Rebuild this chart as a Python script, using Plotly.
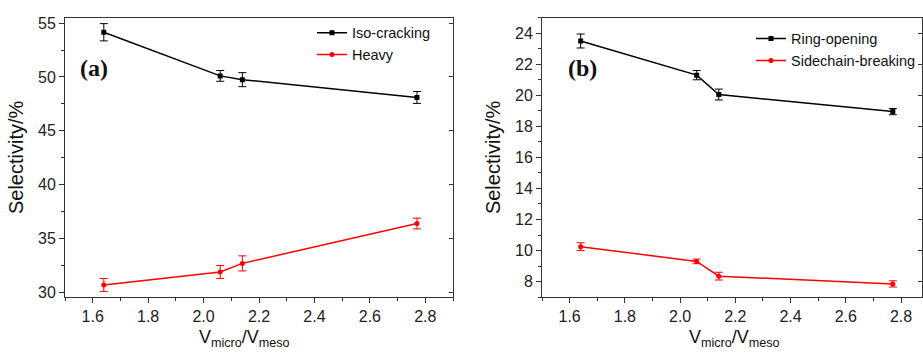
import plotly.graph_objects as go

x_vals = [1.64, 2.06, 2.14, 2.77]

iso_cracking = [54.15, 50.1, 49.75, 48.1]
iso_err = [0.8, 0.5, 0.65, 0.55]
heavy = [30.7, 31.9, 32.7, 36.4]
heavy_err = [0.6, 0.6, 0.7, 0.5]

ring_opening = [23.5, 21.3, 20.05, 18.95]
ring_err = [0.45, 0.3, 0.35, 0.2]
sidechain = [10.25, 9.3, 8.35, 7.85]
side_err = [0.25, 0.15, 0.25, 0.2]

W, H = 923, 356
FONT = "Liberation Sans, Arial, sans-serif"

def px(x):
    return x / W

def py(y):
    return (H - y) / H

fig = go.Figure()

def add(xa, ya, y, err, name, color, symbol, legend):
    fig.add_trace(go.Scatter(
        x=x_vals, y=y, name=name, mode="lines+markers",
        xaxis=xa, yaxis=ya, legend=legend,
        line=dict(color=color, width=1.5),
        marker=dict(color=color, symbol=symbol, size=5),
        error_y=dict(type="data", array=err, visible=True, color=color,
                     thickness=1, width=4),
    ))

add("x", "y", iso_cracking, iso_err, "Iso-cracking", "black", "square", "legend")
add("x", "y", heavy, heavy_err, "Heavy", "red", "circle", "legend")
add("x2", "y2", ring_opening, ring_err, "Ring-opening", "black", "square", "legend2")
add("x2", "y2", sidechain, side_err, "Sidechain-breaking", "red", "circle", "legend2")

dom_y = [py(300), py(15)]
dom_x1 = [px(65), px(453)]
dom_x2 = [px(542), 0.9993]

tickfont = dict(family=FONT, size=16, color="#222")
titlefont = dict(family=FONT, size=20, color="#111")

def xaxis_cfg(dom, rng, anchor):
    return dict(domain=dom, range=rng, anchor=anchor, dtick=0.2, tick0=1.6,
                ticks="outside", ticklen=5, tickwidth=1, tickcolor="#333",
                showline=True, linecolor="#333", linewidth=1, showgrid=False,
                zeroline=False, tickfont=tickfont, tickformat=".1f",
                minor=dict(dtick=0.1, tick0=1.5, ticks="outside", ticklen=3,
                           tickcolor="#333", showgrid=False))

def yaxis_cfg(rng, dtick, minor, anchor):
    return dict(domain=dom_y, range=rng, anchor=anchor, dtick=dtick,
                ticks="outside", ticklen=5, tickwidth=1, tickcolor="#333",
                showline=True, linecolor="#333", linewidth=1, showgrid=False,
                zeroline=False, tickfont=tickfont,
                minor=dict(dtick=minor, ticks="outside", ticklen=3,
                           tickcolor="#333", showgrid=False),
                title=dict(text="Selectivity/%", font=titlefont, standoff=8))

legfont = dict(family=FONT, size=14.5, color="#111")
xtitle = "V<sub>micro</sub>/V<sub>meso</sub>"

fig.update_layout(
    width=W, height=H, margin=dict(l=0, r=0, t=0, b=0),
    paper_bgcolor="white", plot_bgcolor="white",
    font=dict(family=FONT),
    showlegend=True,
    xaxis=xaxis_cfg(dom_x1, [1.5, 2.9], "y"),
    yaxis=yaxis_cfg([29.57, 55.5], 5, 2.5, "x"),
    xaxis2=xaxis_cfg(dom_x2, [1.5, 2.877], "y2"),
    yaxis2=yaxis_cfg([7, 25], 2, 1, "x2"),
    xaxis3=dict(domain=dom_x1, range=[1.5, 2.9], overlaying="x", side="top",
                anchor="y", showline=True, linecolor="#333", linewidth=1,
                ticks="", showticklabels=False, showgrid=False, zeroline=False),
    yaxis3=dict(domain=dom_y, range=[29.57, 55.5], overlaying="y", side="right",
                anchor="x", showline=True, linecolor="#333", linewidth=1,
                ticks="inside", ticklen=4, dtick=5, tickcolor="#333",
                showticklabels=False, showgrid=False, zeroline=False),
    xaxis4=dict(domain=dom_x2, range=[1.5, 2.877], overlaying="x2", side="top",
                anchor="y2", showline=True, linecolor="#333", linewidth=1,
                ticks="", showticklabels=False, showgrid=False, zeroline=False),
    yaxis4=dict(domain=dom_y, range=[7, 25], overlaying="y2", side="right",
                anchor="x2", showline=True, linecolor="#333", linewidth=1,
                ticks="inside", ticklen=4, dtick=2, tickcolor="#333",
                showticklabels=False, showgrid=False, zeroline=False),
    legend=dict(x=px(312), y=py(14), xanchor="left", yanchor="top",
                bgcolor="rgba(0,0,0,0)", font=legfont, tracegroupgap=0),
    legend2=dict(x=px(751), y=py(20), xanchor="left", yanchor="top",
                 bgcolor="rgba(0,0,0,0)", font=legfont, tracegroupgap=0),
    annotations=[
        dict(text="<b>(a)</b>", x=px(78), y=py(66), xref="paper", yref="paper",
             xanchor="left", yanchor="middle", showarrow=False,
             font=dict(family="Liberation Serif, Times New Roman, serif", size=24, color="#111")),
        dict(text="<b>(b)</b>", x=px(566), y=py(66), xref="paper", yref="paper",
             xanchor="left", yanchor="middle", showarrow=False,
             font=dict(family="Liberation Serif, Times New Roman, serif", size=24, color="#111")),
        dict(text=xtitle, x=px(244), y=0.0, xref="paper", yref="paper",
             xanchor="center", yanchor="bottom", showarrow=False,
             font=dict(family=FONT, size=18, color="#111")),
        dict(text=xtitle, x=px(734), y=0.0, xref="paper", yref="paper",
             xanchor="center", yanchor="bottom", showarrow=False,
             font=dict(family=FONT, size=18, color="#111")),
    ],
)

for xa, ya, yv in [("x3", "y3", iso_cracking), ("x4", "y4", ring_opening)]:
    fig.add_trace(go.Scatter(x=x_vals, y=yv, xaxis=xa, yaxis=ya, mode="markers",
                             marker=dict(opacity=0), showlegend=False, hoverinfo="skip"))

fig.write_html("out.html")
